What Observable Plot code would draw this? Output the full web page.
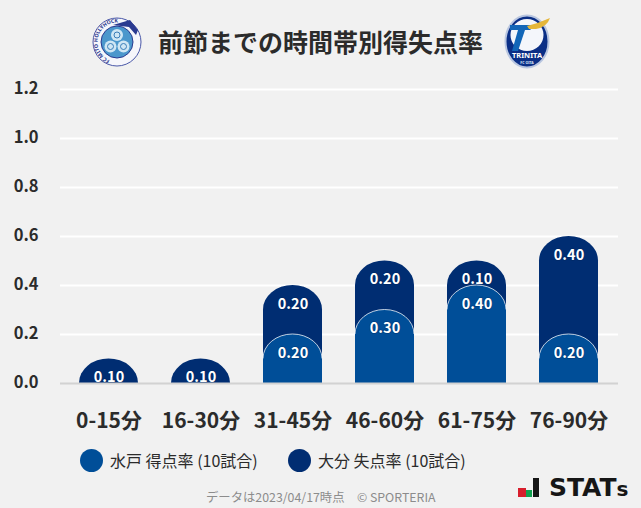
<!DOCTYPE html>
<html lang="ja">
<head>
<meta charset="utf-8">
<script src="https://cdn.jsdelivr.net/npm/d3@7"></script>
<script src="https://cdn.jsdelivr.net/npm/@observablehq/plot@0.6"></script>
<style>
html,body{margin:0;padding:0;background:#f1f1f1;}
body{width:641px;height:508px;position:relative;overflow:hidden;font-family:"Noto Sans CJK JP","Noto Sans",sans-serif;color:#262626;}
#chart{position:absolute;left:0;top:75px;}
#chart svg{display:block;}
.abs{position:absolute;white-space:nowrap;}
#title{left:158px;top:22px;font-size:25px;font-weight:700;line-height:38px;color:#2b2b2b;}
.dot{position:absolute;width:23px;height:23px;border-radius:50%;top:449px;}
.leg{top:449px;font-size:16px;line-height:23px;color:#2b2b2b;}
#cap{left:206px;top:488px;font-size:12.35px;line-height:18px;color:#8c8c8c;}
#stats{left:549px;top:470px;font-family:"DejaVu Sans",sans-serif;font-weight:700;font-size:25px;line-height:35px;color:#161616;}
</style>
</head>
<body>
<svg class="abs" style="left:92px;top:17px" width="50" height="50" viewBox="0 0 50 50">
  <defs><path id="ring" d="M25 44.5A19.5 19.5 0 1 1 25.01 44.5"/></defs>
  <circle cx="25" cy="25" r="24" fill="#f6f6fb" stroke="#4a58a8" stroke-width="1"/>
  <text font-size="5.2" font-weight="700" fill="#2a3a90" font-family="Noto Sans"><textPath href="#ring" startOffset="6%">FC MITO HOLLYHOCK</textPath></text>
  <circle cx="25" cy="25" r="16" fill="#4b97cc" stroke="#2a3a90" stroke-width="1"/>
  <g fill="#cfe6f4"><circle cx="25" cy="18" r="6"/><circle cx="18.5" cy="29.5" r="6"/><circle cx="31.5" cy="29.5" r="6"/></g>
  <g fill="none" stroke="#3a7db8" stroke-width="1"><circle cx="25" cy="18" r="3"/><circle cx="18.5" cy="29.5" r="3"/><circle cx="31.5" cy="29.5" r="3"/></g>
  <path d="M21 8 L38 3 L46 13 L44 18 L37 10Z" fill="#2a3a90"/>
</svg>
<svg class="abs" style="left:503px;top:14px" width="48" height="55" viewBox="0 0 48 55">
  <ellipse cx="24" cy="27.5" rx="21.5" ry="26" fill="#0b2f86" stroke="#b9c6e0" stroke-width="2"/>
  <ellipse cx="24" cy="21" rx="16.5" ry="16" fill="#f4f6fb"/>
  <path d="M7 11 H32 L27 16 H22 L15 37 H9 L15 16 H7Z" fill="#1266b8"/>
  <path d="M24 12 Q36 9 47 4 Q44 13 33 15 L26 15Z" fill="#e5b63a"/>
  <text x="24" y="44" text-anchor="middle" font-size="7.5" font-weight="700" fill="#fff" font-family="Noto Sans">TRINITA</text>
  <text x="24" y="49.5" text-anchor="middle" font-size="3.5" font-weight="700" fill="#dfe6f5" font-family="Noto Sans">FC OITA</text>
</svg>
<div id="title" class="abs">前節までの時間帯別得失点率</div>
<div id="chart"></div>
<div class="dot" style="left:80px;background:#004e98"></div>
<div class="abs leg" style="left:110px">水戸 得点率 (10試合)</div>
<div class="dot" style="left:288px;background:#002d72"></div>
<div class="abs leg" style="left:318px">大分 失点率 (10試合)</div>
<div id="cap" class="abs">データは2023/04/17時点　© SPORTERIA</div>
<svg class="abs" style="left:517px;top:477px" width="26" height="22" viewBox="0 0 26 22">
  <rect x="1" y="11" width="8" height="9" fill="#d81e2c"/>
  <rect x="9" y="13" width="6" height="7" fill="#12a150"/>
  <rect x="16" y="1" width="6" height="19" fill="#161616"/>
</svg>
<div id="stats" class="abs">STAT<span style="font-size:20px">s</span></div>
<script>
const categories = ["0-15分","16-30分","31-45分","46-60分","61-75分","76-90分"];
const mitoScored = [0,0,0.2,0.3,0.4,0.2];
const oitaConceded = [0.1,0.1,0.2,0.2,0.1,0.4];
const yTicks = [0,0.2,0.4,0.6,0.8,1.0,1.2];

const mitoRows = categories.map((c,i)=>({c,hi:mitoScored[i],v:mitoScored[i]})).filter(d=>d.v>0);
const oitaRows = categories.map((c,i)=>({c,hi:mitoScored[i]+oitaConceded[i],v:oitaConceded[i]}));

const BLUE="#004e98", NAVY="#002d72";
const capRender = (stroke) => (I,s,v,d,c,next)=>{
  const g = next(I,s,v,d,c);
  const ry = Math.abs(s.y(0)-s.y(0.1));
  d3.select(g).selectAll("rect").each(function(){
    const x=+this.getAttribute("x"), y=+this.getAttribute("y"),
          w=+this.getAttribute("width"), h=+this.getAttribute("height");
    const rx=w/2;
    const arc=`M${x},${y+ry}A${rx},${ry} 0 0 1 ${x+w},${y+ry}`;
    const p=d3.select(this.parentNode).insert("path",()=>this);
    p.attr("d",`${arc}V${y+h}H${x}Z`).attr("fill",this.getAttribute("fill"));
    if(stroke) d3.select(this.parentNode).append("path").attr("d",arc).attr("fill","none")
      .attr("stroke",stroke).attr("stroke-width",1).attr("stroke-opacity",.75);
    this.remove();
  });
  return g;
};
const labelFmt = d=>d.v.toFixed(2);
const labelOpts = {x:"c",y:"hi",text:labelFmt,dy:18.5,fill:"white",fontWeight:700,fontSize:14.5,
  stroke:"#00224f",strokeWidth:1.5,strokeOpacity:.35};

const chart = Plot.plot({
  width:641,height:365,marginTop:14,marginBottom:57,marginLeft:60,marginRight:23,
  style:{background:"transparent",fontFamily:'"Noto Sans CJK JP","Noto Sans",sans-serif'},
  x:{domain:categories,range:[60,618],paddingInner:.357,paddingOuter:.211,align:.5,label:null},
  y:{domain:[0,1.2],label:null},
  marks:[
    Plot.ruleY(yTicks.slice(1),{stroke:"#ffffff",strokeWidth:2,strokeOpacity:1}),
    Plot.barY(oitaRows,{x:"c",y1:0,y2:"hi",fill:NAVY,render:capRender(null)}),
    Plot.text(oitaRows,labelOpts),
    Plot.barY(mitoRows,{x:"c",y1:0,y2:"hi",fill:BLUE,render:capRender("#ffffff")}),
    Plot.text(mitoRows,labelOpts),
    Plot.ruleY([0],{stroke:"#d2d2d2",strokeWidth:2}),
    Plot.axisY({ticks:yTicks,tickSize:0,tickPadding:0,anchor:"left",dx:-22,dy:-1,tickFormat:d=>d.toFixed(1),fontSize:16.5,fontWeight:700,fill:"#2b2b2b",label:null}),
    Plot.axisX({tickSize:0,tickPadding:0,dy:30,fontSize:21,fontWeight:700,fill:"#2b2b2b",label:null})
  ]
});
document.getElementById("chart").appendChild(chart);
</script>
</body>
</html>
